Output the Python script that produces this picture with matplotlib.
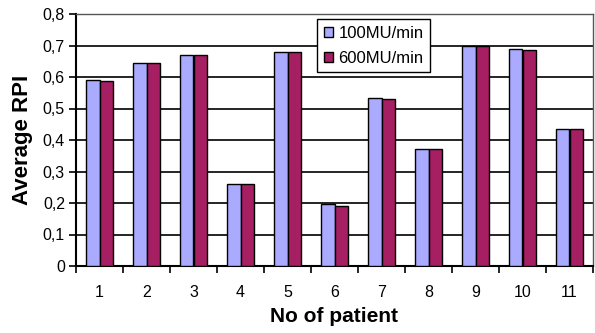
import numpy as np
import matplotlib
matplotlib.use('Agg')
import matplotlib.pyplot as plt

plt.rcParams['font.family'] = ['Liberation Sans', 'DejaVu Sans']

# Dados
pacientes = ['1', '2', '3', '4', '5', '6', '7', '8', '9', '10', '11']
rpi_100 = [0.590, 0.644, 0.669, 0.260, 0.678, 0.196, 0.532, 0.370, 0.697, 0.689, 0.435]
rpi_600 = [0.586, 0.644, 0.669, 0.260, 0.678, 0.190, 0.529, 0.370, 0.697, 0.685, 0.435]
yticks = [0, 0.1, 0.2, 0.3, 0.4, 0.5, 0.6, 0.7, 0.8]
ytick_labels = ['0', '0,1', '0,2', '0,3', '0,4', '0,5', '0,6', '0,7', '0,8']

fig = plt.figure(figsize=(5.95, 3.33), dpi=100)
ax = fig.add_axes([76 / 595, 1 - 266 / 333, (593 - 76) / 595, (266 - 14) / 333])

x = np.arange(len(pacientes))
largura = 0.28
ax.bar(x - largura / 2, rpi_100, largura, color='#AAAAFF', edgecolor='black', linewidth=1, label='100MU/min', zorder=3)
ax.bar(x + largura / 2, rpi_600, largura, color='#A51F62', edgecolor='black', linewidth=1, label='600MU/min', zorder=3)

ax.set_xlim(-0.5, len(pacientes) - 0.5)
ax.set_ylim(0, 0.8)
ax.set_yticks(yticks)
ax.set_yticklabels(ytick_labels, fontsize=11.5)
ax.set_xticks(x)
ax.set_xticklabels(pacientes, fontsize=11.5)
ax.tick_params(axis='x', length=0, pad=14)
ax.set_xticks(np.arange(len(pacientes) + 1) - 0.5, minor=True)
ax.tick_params(axis='x', which='minor', length=5, width=1.2, direction='out')
ax.tick_params(axis='y', length=5, width=1.2, direction='out', pad=3)
ax.grid(axis='y', color='black', linewidth=1.2, zorder=0)

for lado in ['left', 'bottom']:
    ax.spines[lado].set_linewidth(1.5)
for lado in ['top', 'right']:
    ax.spines[lado].set_linewidth(1.0)
    ax.spines[lado].set_color('#555555')

ax.set_ylabel('Average RPI', fontsize=16, fontweight='bold', labelpad=7)
ax.set_xlabel('No of patient', fontsize=15, fontweight='bold', labelpad=5)

leg = ax.legend(loc='upper left', bbox_to_anchor=(0.467, 0.98), fontsize=12,
                frameon=True, fancybox=False, edgecolor='black', framealpha=1,
                handlelength=0.55, handleheight=0.6, handletextpad=0.3,
                borderpad=0.4, labelspacing=0.6, borderaxespad=0)
leg.get_frame().set_linewidth(1.0)

fig.savefig('out.png', dpi=100)
